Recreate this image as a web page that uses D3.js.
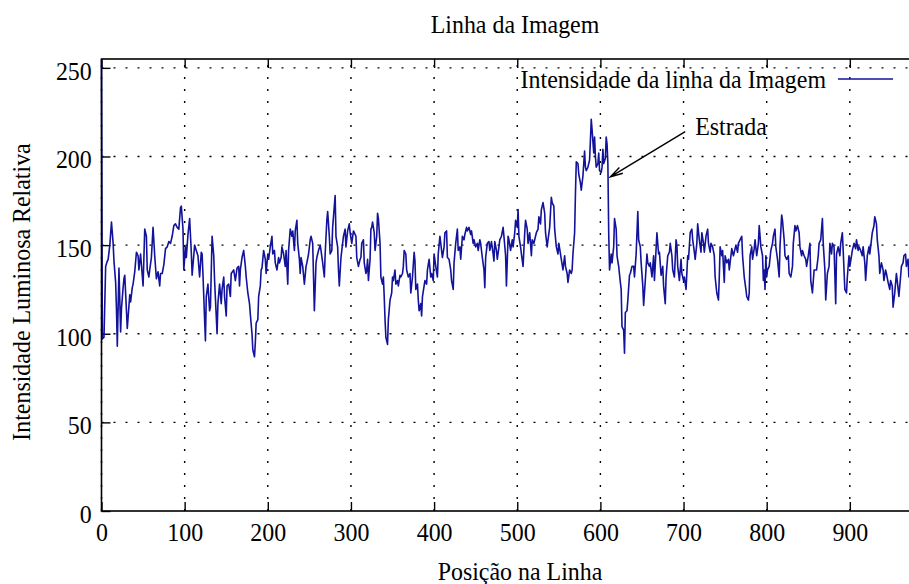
<!DOCTYPE html>
<html>
<head>
<meta charset="utf-8">
<script src="https://cdn.jsdelivr.net/npm/d3@7"></script>
<style>
  body { margin: 0; background: #fff; }
  svg { display: block; }
  text { font-family: "Liberation Serif", "Times New Roman", serif; }
</style>
</head>
<body>
<svg id="chart" width="909" height="584"></svg>
<script>
// tick labels
const xTicks = [0, 100, 200, 300, 400, 500, 600, 700, 800, 900];
const yTicks = [0, 50, 100, 150, 200, 250];
const xDomain = [0, 975];
const yDomain = [0, 255];

const titulo = "Linha da Imagem";
const xTitulo = "Posição na Linha";
const yTitulo = "Intensidade Luminosa Relativa";
const legenda = "Intensidade da linha da Imagem";

// [posição, intensidade]
const pontos = [
  [0,255],[1,97],[3,98],[5,138],[7,141],[8,142],[10,150],[12,163],[14,151],[15,141],
  [17,129],[18,114],[19,93],[21,137],[23,101],[24,114],[26,126],[27,131],[28,133],[30,113],
  [31,103],[34,122],[35,118],[37,126],[38,128],[40,135],[42,146],[44,144],[45,136],[47,145],
  [49,133],[50,127],[52,159],[54,155],[55,136],[57,132],[58,136],[60,143],[62,160],[64,144],
  [66,131],[68,135],[70,127],[71,134],[73,134],[75,139],[77,148],[79,149],[81,152],[83,151],
  [85,155],[87,161],[89,162],[91,160],[93,159],[95,171],[96,172],[98,159],[99,136],[101,149],
  [102,143],[104,156],[106,165],[108,146],[109,133],
  [112,150],[114,147],[116,144],[118,132],[120,146],[121,145],[122,134],[124,108],[125,96],[126,121],
  [128,128],[130,113],[131,115],[133,155],[135,144],[136,130],[139,100],[140,117],[142,128],[144,117],
  [145,125],[147,132],[148,121],[150,110],[151,127],[153,128],[155,121],[156,134],[159,136],[161,130],
  [163,137],[165,138],[166,127],[167,136],[169,143],[171,147],[173,138],[174,132],[176,123],[178,117],
  [179,111],[181,100],[182,91],[184,87],[185,95],[186,106],[188,108],[189,121],[191,127],[192,136],
  [193,137],[195,147],[197,142],[198,134],[200,145],[201,142],[203,149],[205,155],[206,145],[208,147],
  [209,140],[211,136],[213,143],[214,140],[216,143],[217,149],[219,145],[221,138],[222,147],[224,128],
  [225,147],[227,159],[229,155],[230,158],[232,147],
  [233,158],[235,164],[236,151],[238,142],[239,134],[240,143],[242,138],[244,128],[246,138],[247,140],
  [249,145],[251,153],[252,155],[254,151],[256,113],[258,140],[259,143],[261,147],[263,150],[264,147],
  [266,140],[268,132],[269,145],[271,164],[272,169],[274,155],[275,145],[277,147],[278,160],[280,172],
  [281,178],[282,155],[284,149],[285,136],[286,127],[288,143],[290,151],[291,155],[293,159],[294,149],
  [296,158],[298,162],[299,157],[301,151],[303,158],[304,157],[306,155],[307,143],[309,138],[311,142],
  [312,143],[313,151],[315,153],[316,140],[318,134],[319,136],[320,142],[321,130],[323,142],[324,159],
  [325,160],[326,163],[328,157],[329,147],[331,155],[332,168],[333,165],[335,151],[336,132],[338,128],
  [339,132],[340,121],[341,108],[342,98],[344,94],[345,108],[347,119],[349,123],[350,132],[351,130],
  [353,136],[354,128],[356,130],[357,127],[359,133],[360,132],[362,134],[363,138],
  [364,147],[366,145],[367,136],[369,132],[371,134],[372,123],[374,132],[376,146],[377,141],[378,125],
  [380,128],[381,119],[382,113],[384,117],[385,110],[386,121],[388,127],[389,130],[391,128],[392,136],
  [394,142],[396,132],[397,134],[399,130],[400,145],[402,138],[404,132],[405,145],[407,155],[408,151],
  [410,143],[412,149],[413,157],[415,158],[416,143],[418,142],[420,136],[421,130],[423,125],[424,140],
  [426,151],[428,159],[429,147],[431,149],[432,142],[434,155],[436,153],[437,156],[439,160],[440,158],
  [442,160],[444,156],[445,158],[447,151],[448,153],[450,149],[452,151],[453,147],[455,153],[456,151],
  [458,143],[460,136],[461,126],[462,143],[464,151],[466,152],[467,147],[469,152],[471,145],[472,141],
  [473,152],[475,147],[476,142],[478,149],[479,153],[481,155],[483,160],[484,155],
  [486,144],[487,127],[489,155],[490,153],[492,147],[494,153],[495,149],[497,157],[498,164],[500,160],
  [501,170],[502,155],[504,149],[505,145],[507,138],[509,157],[510,164],[512,159],[513,151],[515,157],
  [517,144],[518,153],[520,151],[521,153],[523,157],[525,159],[526,166],[528,162],[529,170],[531,174],
  [533,168],[534,157],[536,149],[537,153],[539,160],[541,177],[542,174],[544,172],[545,159],[547,149],
  [549,145],[550,151],[552,145],[553,142],[555,136],[557,144],[558,138],[560,134],[561,129],[563,136],
  [565,134],[566,136],[567,145],[569,157],[570,179],[571,197],[573,196],[574,190],[576,185],[577,181],
  [579,189],[581,203],[582,194],[583,192],[585,194],[587,198],[588,209],[589,221],[590,215],[592,202],
  [593,211],[594,200],[595,194],[597,196],[598,202],[599,192],[601,191],[602,194],[603,204],[604,196],
  [606,199],[607,211],[608,207],[609,196],[610,157],[611,136],
  [613,145],[614,140],[616,149],[617,165],[619,159],[620,144],[622,138],[624,129],[625,125],[626,104],
  [628,102],[629,89],[630,112],[632,113],[633,119],[635,133],[636,134],[638,138],[640,138],[641,132],
  [643,145],[645,169],[646,153],[648,149],[649,140],[651,127],[652,116],[654,130],[656,145],[657,140],
  [659,138],[660,140],[662,132],[664,144],[665,130],[667,148],[668,157],[670,145],[671,146],[673,133],
  [675,138],[676,127],[678,117],[679,132],[681,144],[683,146],[684,151],[686,144],[687,136],[689,132],
  [691,153],[692,150],[693,138],[695,130],[697,142],[698,134],[700,130],[701,132],[703,125],[705,144],
  [706,142],[708,157],[710,159],[711,153],[713,146],[714,142],[716,151],[717,162],[719,153],[721,146],
  [722,157],[724,151],[725,146],[727,155],[729,159],[730,151],[732,146],[733,151],[735,149],[737,144],
  [738,132],[740,123],[742,119],[743,132],[744,149],
  [746,144],[747,147],[749,129],[750,144],[752,140],[754,142],[755,136],[757,144],[758,148],[760,144],
  [762,148],[763,150],[765,146],[766,151],[768,153],[770,155],[771,144],[773,132],[775,125],[776,121],
  [778,119],[779,123],[780,144],[782,149],[783,142],[785,148],[786,153],[788,144],[790,151],[791,161],
  [793,149],[795,144],[796,130],[797,136],[798,125],[799,144],[800,132],[801,136],[803,138],[805,147],
  [807,151],[808,155],[810,159],[811,149],[813,142],[815,132],[816,149],[818,167],[819,164],[821,153],
  [822,144],[824,142],[826,144],[827,134],[829,132],[831,138],[832,151],[834,161],[835,158],[837,161],
  [839,157],[840,149],[842,144],[843,147],[845,144],[847,142],[848,138],[850,144],[852,151],
  [853,130],[855,123],[857,136],[859,136],[860,136],[862,144],[863,151],[865,153],[867,165],[868,151],
  [870,136],[871,119],[873,134],[875,138],[876,151],[878,145],[879,151],[881,149],[883,117],[884,145],
  [886,149],[888,144],[889,151],[891,157],[892,147],[894,125],[896,123],[897,132],[899,144],[900,138],
  [902,144],[903,147],[905,151],[907,148],[908,153],[910,147],[911,149],[913,147],[915,144],[916,149],
  [918,140],[919,130],[921,144],[923,149],[924,145],[926,153],[927,157],[929,161],[930,166],[932,162],
  [933,153],[935,144],[936,134],[938,140],[940,136],[941,130],[943,136],[944,134],[946,129],[948,125],
  [949,130],[951,127],[952,115],[954,123],[956,134],[957,130],[959,121],[961,132],[962,138],[964,140],
  [965,144],[967,145],[968,138],[970,142],[971,132],[973,138],[975,135]
];

// annotation: label and arrow in data coordinates
const rotulo = { texto: "Estrada", x: 714, y: 212 };
const seta = { de: [702, 214], para: [612, 188.5] };

const plot = { left: 101.5, right: 912.2, top: 59, bottom: 511 };
const fs = 26;          // font size
const sx = 0.92;        // the reference type is a bit narrow
const corLinha = "#12129a";

const svg = d3.select("#chart");

const x = d3.scaleLinear().domain(xDomain).range([plot.left, plot.right]);
const y = d3.scaleLinear().domain(yDomain).range([plot.bottom, plot.top]);

// grid
const grid = svg.append("g")
    .attr("stroke", "#000")
    .attr("stroke-width", 1.4)
    .attr("stroke-dasharray", "2,10");

grid.selectAll(".gy")
    .data(yTicks.filter(d => d > 0))
    .join("line")
    .attr("x1", x(xDomain[0])).attr("x2", x(xDomain[1]))
    .attr("y1", d => y(d)).attr("y2", d => y(d));

grid.selectAll(".gx")
    .data(xTicks)
    .join("line")
    .attr("y1", y(yDomain[0])).attr("y2", y(yDomain[1]))
    .attr("x1", d => x(d)).attr("x2", d => x(d));

// axes, ticks inward
const bottomAxis = d3.axisBottom(x).tickValues(xTicks).tickSize(-9).tickSizeOuter(0).tickPadding(11.5);
const topAxis = d3.axisTop(x).tickValues(xTicks).tickSize(-9).tickSizeOuter(0).tickFormat("");
const leftAxis = d3.axisLeft(y).tickValues(yTicks).tickSize(-9).tickSizeOuter(0).tickPadding(10.6);

const gB = svg.append("g").attr("transform", `translate(0,${plot.bottom})`).call(bottomAxis);
const gT = svg.append("g").attr("transform", `translate(0,${plot.top})`).call(topAxis);
const gL = svg.append("g").attr("transform", `translate(${plot.left},0)`).call(leftAxis);

[gB, gT, gL].forEach(g => {
    g.select(".domain").remove();
    g.selectAll(".tick line").attr("stroke", "#000").attr("stroke-width", 1.4);
    g.selectAll(".tick text")
        .attr("fill", "#000")
        .attr("transform", `scale(${sx},1)`)
        .style("font-family", '"Liberation Serif", serif')
        .style("font-size", fs + "px");
});
gL.selectAll(".tick text").attr("dy", "0.44em");

// data line
const line = d3.line()
    .x(d => x(d[0]))
    .y(d => y(d[1]));

svg.append("path")
    .datum(pontos)
    .attr("fill", "none")
    .attr("stroke", corLinha)
    .attr("stroke-width", 1.6)
    .attr("stroke-linejoin", "round")
    .attr("d", line);

// frame
svg.append("rect")
    .attr("x", x(xDomain[0])).attr("y", y(yDomain[1]))
    .attr("width", x(xDomain[1]) - x(xDomain[0]))
    .attr("height", y(yDomain[0]) - y(yDomain[1]))
    .attr("fill", "none")
    .attr("stroke", "#000")
    .attr("stroke-width", 1.6);

function label(px, py, txt, anchor, rot) {
    return svg.append("text")
        .attr("transform", `translate(${px},${py})` + (rot ? ` rotate(${rot})` : "") + ` scale(${sx},1)`)
        .attr("text-anchor", anchor)
        .style("font-size", fs + "px")
        .text(txt);
}

// legend
label(826, 88, legenda, "end");
svg.append("line")
    .attr("x1", 838).attr("x2", 893)
    .attr("y1", 79).attr("y2", 79)
    .attr("stroke", corLinha)
    .attr("stroke-width", 1.6);

// annotation arrow
const x1 = x(seta.de[0]), y1 = y(seta.de[1]);
const x2 = x(seta.para[0]), y2 = y(seta.para[1]);
const ang = Math.atan2(y2 - y1, x2 - x1);
const headLen = 13, headAng = Math.PI / 12;
svg.append("path")
    .attr("fill", "none")
    .attr("stroke", "#000")
    .attr("stroke-width", 1.4)
    .attr("d", `M${x1},${y1}L${x2},${y2}` +
        `M${x2 - headLen * Math.cos(ang - headAng)},${y2 - headLen * Math.sin(ang - headAng)}L${x2},${y2}` +
        `L${x2 - headLen * Math.cos(ang + headAng)},${y2 - headLen * Math.sin(ang + headAng)}`);

label(x(rotulo.x), y(rotulo.y), rotulo.texto, "start");

// titles
label(515, 33, titulo, "middle");
label(520, 580, xTitulo, "middle");
label(30, 292, yTitulo, "middle", -90);
</script>
</body>
</html>
